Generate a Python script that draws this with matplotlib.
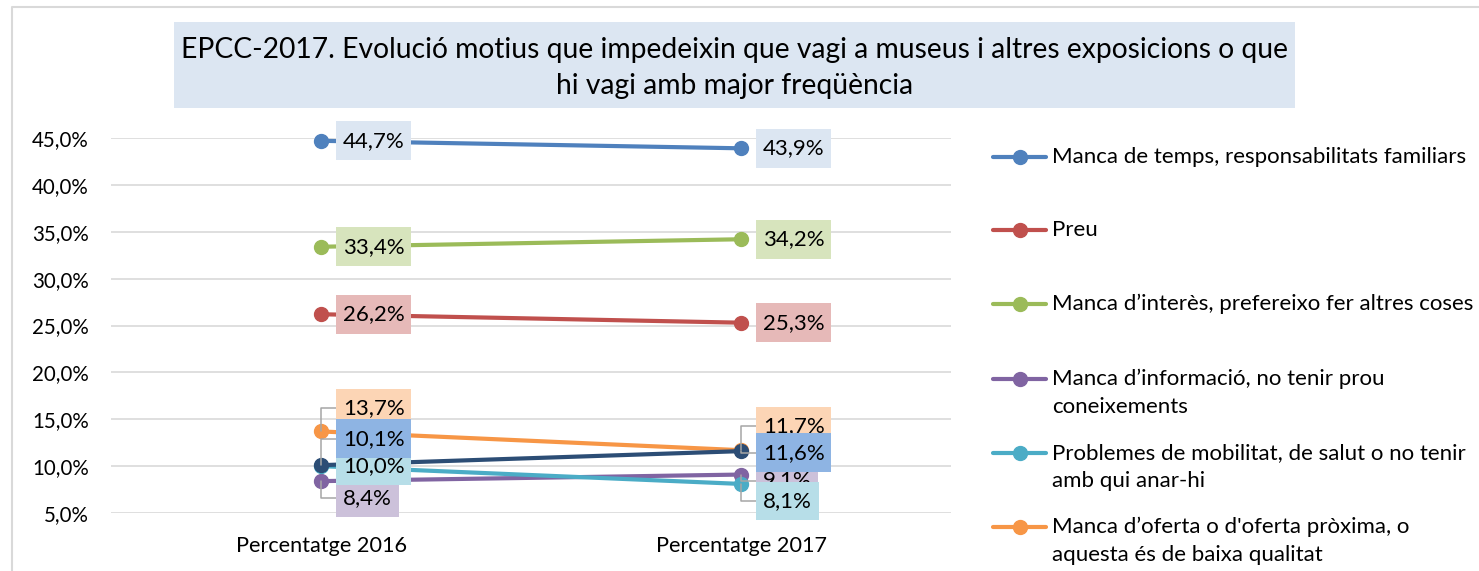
import matplotlib
matplotlib.use('Agg')
import matplotlib.pyplot as plt
from matplotlib.lines import Line2D
from matplotlib.patches import Rectangle
from matplotlib.path import Path
from matplotlib.ticker import FuncFormatter, FixedLocator

plt.rcParams['font.family'] = ['Lato', 'DejaVu Sans']

# ---------------- data ----------------
categories = ['Percentatge 2016', 'Percentatge 2017']
series_names = [
    'Manca de temps, responsabilitats familiars',
    'Preu',
    'Manca d\u2019interès, prefereixo fer altres coses',
    'Manca d\u2019informació, no tenir prou\nconeixements',
    'Problemes de mobilitat, de salut o no tenir\namb qui anar-hi',
    'Manca d\u2019oferta o d\'oferta pròxima, o\naquesta és de baixa qualitat',
    'Altres motius',
]
temps = [44.7, 43.9]
preu = [26.2, 25.3]
interes = [33.4, 34.2]
informacio = [8.4, 9.1]
mobilitat = [10.0, 8.1]
oferta = [13.7, 11.7]
altres = [10.1, 11.6]
series_values = [temps, preu, interes, informacio, mobilitat, oferta, altres]
y_ticks = [5, 10, 15, 20, 25, 30, 35, 40, 45]
show_in_legend = [True, True, True, True, True, True, False]

# ---------------- style ----------------
line_colors = ['#4F81BD', '#C0504D', '#9BBB59', '#8064A2', '#4BACC6', '#F79646', '#2C4D75']
label_bgs = ['#DCE6F2', '#E6B9B8', '#D7E4BD', '#CCC1DA', '#B7DEE8', '#FCD5B5', '#8EB4E3']
# label vertical displacement in pixels (positive = downward), per series, per category
label_shift = [
    [0, 0], [0, 0], [0, 0],
    [17, 6],
    [0, 17],
    [-23, -24],
    [-26.5, 1.5],
]


def excel_box(x0, y0, width, height, mutation_size):
    padx = 0.3 * mutation_size
    pady = 0.42 * mutation_size
    x0, y0 = x0 - padx, y0 - pady
    x1, y1 = x0 + width + 2 * padx, y0 + height + 2 * pady
    return Path([(x0, y0), (x1, y0), (x1, y1), (x0, y1), (x0, y0)], closed=True)


W, H = 1479, 571
DPI = 100
fig = plt.figure(figsize=(W / DPI, H / DPI), dpi=DPI)

def fx(px):
    return px / W

def fy(py):
    return 1 - py / H

# figure border (chart area outline)
fig.add_artist(Line2D([fx(12), fx(12), fx(W + 5)], [fy(H + 5), fy(7), fy(7)],
                      transform=fig.transFigure, color='#D9D9D9', lw=1.5))

# title box
fig.add_artist(Rectangle((fx(174), fy(108)), fx(1295) - fx(174), fy(22) - fy(108),
                         transform=fig.transFigure, facecolor='#DCE6F2', edgecolor='none'))
fig.text(fx(734.5), fy(68), 'EPCC-2017. Evolució motius que impedeixin que vagi a museus i altres exposicions o que\n'
         'hi vagi amb major freqüència', ha='center', va='center', fontsize=20.3,
         color='#000000', linespacing=1.45)

ax = fig.add_axes([fx(111), fy(513), fx(951) - fx(111), fy(138) - fy(513)])
ax.set_xlim(-0.5, 1.5)
ax.set_ylim(5, 45)
ax.yaxis.set_major_locator(FixedLocator(y_ticks))
ax.yaxis.set_major_formatter(FuncFormatter(lambda v, p: f'{v:.1f}'.replace('.', ',') + '%'))
ax.set_xticks(range(len(categories)))
ax.set_xticklabels(categories)
ax.grid(axis='y', color='#D9D9D9', lw=1.2)
ax.set_axisbelow(True)
for s in ax.spines.values():
    s.set_visible(False)
ax.tick_params(axis='y', length=0, pad=16, labelsize=14.8)
ax.tick_params(axis='x', length=0, pad=16.5, labelsize=15.6)

xs = list(range(len(categories)))
for i, vals in enumerate(series_values):
    ax.plot(xs, vals, color=line_colors[i], lw=3, marker='o', markersize=10,
            solid_capstyle='round', zorder=3 + i, clip_on=False)
    for j, v in enumerate(vals):
        dy = label_shift[i][j]
        txt = f'{v:.1f}'.replace('.', ',') + '%'
        kw = {}
        if abs(dy) >= 1:
            kw['arrowprops'] = dict(arrowstyle='-', color='#A6A6A6', lw=1.1,
                                    connectionstyle='angle,angleA=0,angleB=90,rad=0',
                                    relpos=(0, 0.5), shrinkA=0, shrinkB=0)
        ax.annotate(txt, xy=(xs[j], v), xytext=(22, -dy), textcoords='offset pixels',
                    ha='left', va='center', fontsize=16, color='#000000',
                    bbox=dict(boxstyle=excel_box, fc=label_bgs[i], ec='none'),
                    zorder=20 + i, annotation_clip=False, **kw)

# legend (drawn manually to match the layout)
leg_y = [157, 230.5, 304, 379, 453, 527]
k = 0
for i, name in enumerate(series_names):
    if not show_in_legend[i]:
        continue
    y = leg_y[k]
    fig.add_artist(Line2D([fx(993), fx(1046)], [fy(y), fy(y)], transform=fig.transFigure,
                          color=line_colors[i], lw=3, solid_capstyle='round'))
    fig.add_artist(Line2D([fx(1019.5)], [fy(y)], transform=fig.transFigure,
                          color=line_colors[i], marker='o', markersize=10))
    fig.text(fx(1052), fy(y - 10), name, ha='left', va='top', fontsize=16,
             color='#000000', linespacing=1.5)
    k += 1

fig.savefig('out.png', dpi=DPI)
